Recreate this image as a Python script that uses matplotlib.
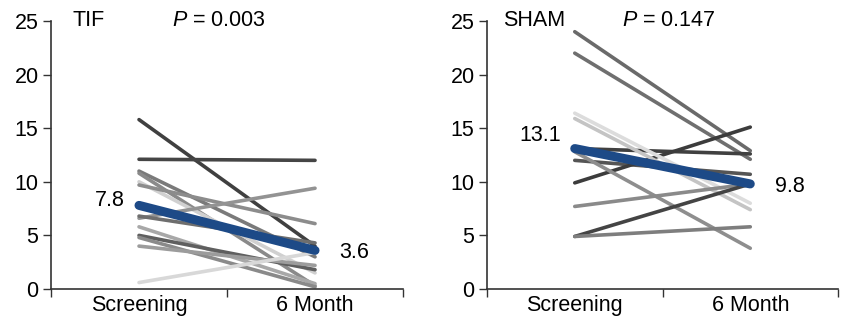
import matplotlib.pyplot as plt

plt.rcParams['font.family'] = ['Liberation Sans', 'DejaVu Sans']
plt.rcParams['mathtext.fontset'] = 'custom'
plt.rcParams['mathtext.it'] = 'Liberation Sans:italic'
plt.rcParams['mathtext.rm'] = 'Liberation Sans'

categories = ["Screening", "6 Month"]
y_ticks = [0, 5, 10, 15, 20, 25]

# TIF group: individual patients (screening, 6 month) and line shade
tif_start = [15.8, 12.1, 11.0, 10.8, 10.0, 9.7, 6.6, 6.8, 5.8, 5.0, 4.8, 4.0, 0.6]
tif_end = [4.0, 12.0, 3.0, 0.3, 1.5, 6.1, 9.4, 4.3, 0.5, 1.8, 0.2, 2.2, 3.4]
tif_shade = ["#404040", "#454545", "#7a7a7a", "#8a8a8a", "#d0d0d0", "#8c8c8c",
             "#939393", "#6e6e6e", "#a8a8a8", "#5f5f5f", "#8a8a8a", "#9c9c9c", "#d8d8d8"]
tif_mean = [7.8, 3.6]
tif_p = "0.003"

# SHAM group
sham_start = [24.0, 22.0, 13.1, 12.0, 9.9, 16.4, 15.9, 12.8, 7.7, 4.9, 4.9]
sham_end = [12.9, 12.1, 12.6, 10.7, 15.1, 8.0, 7.4, 3.8, 9.8, 9.8, 5.8]
sham_shade = ["#6a6a6a", "#6f6f6f", "#404040", "#555555", "#3c3c3c", "#dcdcdc",
              "#c4c4c4", "#8e8e8e", "#8a8a8a", "#444444", "#7e7e7e"]
sham_mean = [13.1, 9.8]
sham_p = "0.147"

blue = "#1d4a87"
axc = "#333333"
fs = 15.5

fig = plt.figure(figsize=(8.43, 3.25), dpi=100)
ax1 = fig.add_axes([0.0605, 0.1108, 0.4176, 0.8246])
ax2 = fig.add_axes([0.5777, 0.1108, 0.4164, 0.8246])

xs = [0.5, 1.5]


def panel(ax, starts, ends, shades, mean, name, p, name_x, p_x, lab1, lab2):
    for s, e, c in zip(starts, ends, shades):
        ax.plot(xs, [s, e], color=c, lw=2.6, solid_capstyle="round")
    ax.plot(xs, mean, color=blue, lw=6.5, solid_capstyle="round", zorder=5)
    ax.set_xlim(0, 2)
    ax.set_ylim(0, 25)
    ax.set_yticks(y_ticks)
    ax.set_xticks([0, 1, 2])
    ax.set_xticklabels([])
    ax.set_xticks(xs, minor=True)
    ax.set_xticklabels(categories, minor=True, fontsize=fs)
    ax.tick_params(axis="x", which="minor", length=0, pad=4)
    ax.tick_params(axis="x", which="major", length=6, width=1, color=axc)
    ax.tick_params(axis="y", length=6, width=1, color=axc, labelsize=fs, pad=3)
    for sp in ["top", "right"]:
        ax.spines[sp].set_visible(False)
    for sp in ["left", "bottom"]:
        ax.spines[sp].set_color(axc)
        ax.spines[sp].set_linewidth(1.2)
    ax.text(name_x, 25, name, fontsize=fs, va="center", ha="left")
    ax.text(p_x, 25, r"$\it{P}$ = " + p, fontsize=fs, va="center", ha="left")
    ax.text(xs[0] - 0.08, lab1, f"{mean[0]:.1f}", fontsize=fs,
            ha="right", va="center")
    ax.text(xs[1] + 0.14, lab2, f"{mean[1]:.1f}", fontsize=fs,
            ha="left", va="center")


panel(ax1, tif_start, tif_end, tif_shade, tif_mean, "TIF", tif_p, 0.12, 0.69, 8.3, 3.45)
panel(ax2, sham_start, sham_end, sham_shade, sham_mean, "SHAM", sham_p, 0.09, 0.77, 14.35, 9.55)

fig.savefig("out.png", dpi=100)
